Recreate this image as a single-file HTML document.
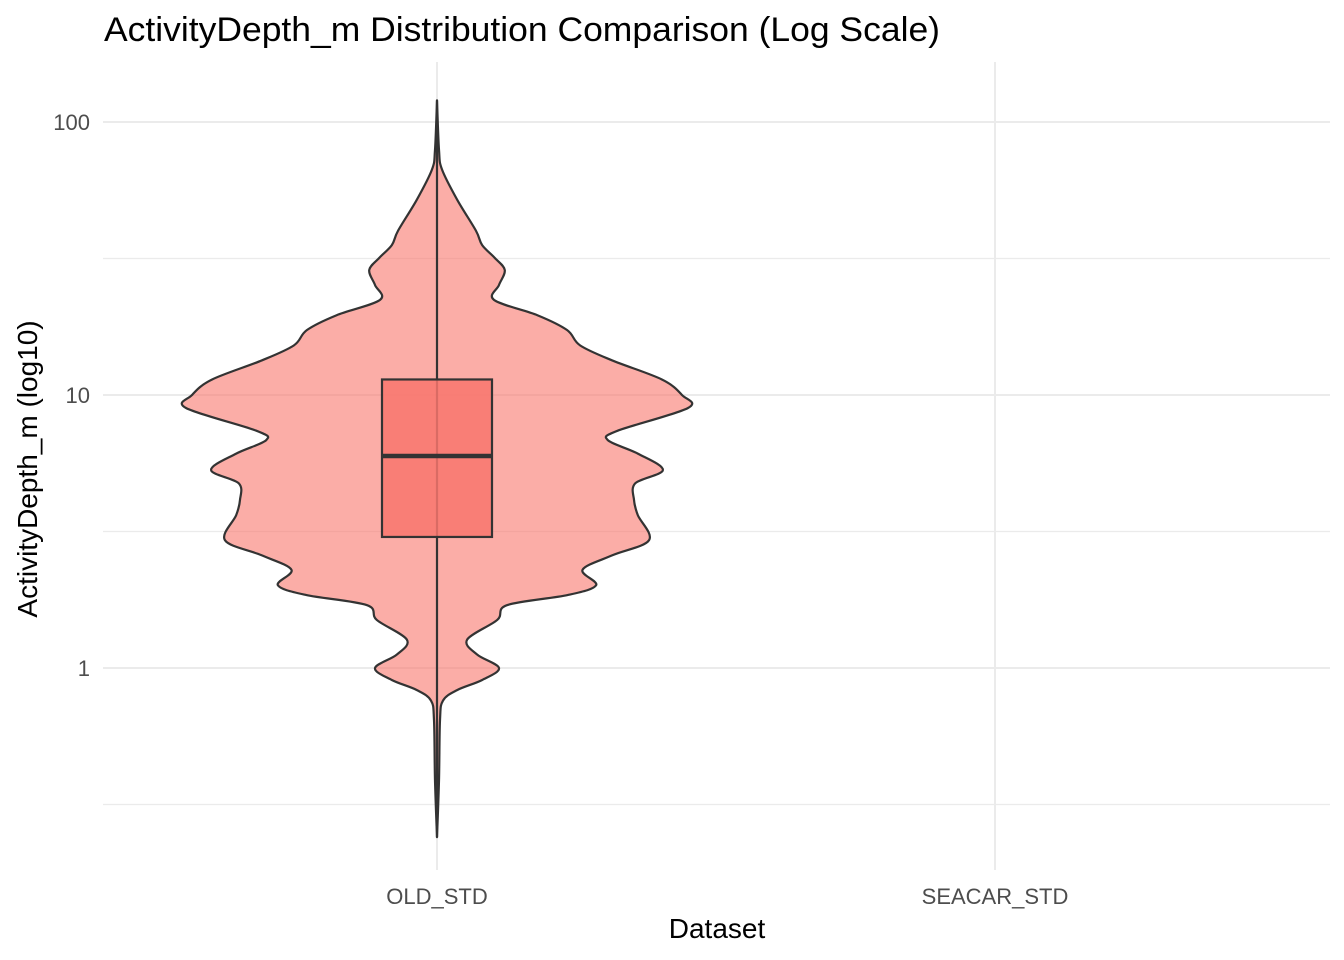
<!DOCTYPE html>
<html><head><meta charset="utf-8"><style>
body{margin:0;background:#fff;font-family:"Liberation Sans",sans-serif}
svg{display:block}
</style></head><body>
<svg id="chart" width="1344" height="960" viewBox="0 0 1344 960">
<text x="104" y="41" font-size="34" fill="#000" textLength="836" lengthAdjust="spacingAndGlyphs">ActivityDepth_m Distribution Comparison (Log Scale)</text>
<g id="grid"></g><g id="marks"></g><g id="axes"></g>
<text x="717" y="938" font-size="28" text-anchor="middle">Dataset</text>
<text transform="translate(37,469) rotate(-90)" font-size="28" text-anchor="middle">ActivityDepth_m (log10)</text>
</svg>
<script>
const categories = ["OLD_STD", "SEACAR_STD"];
const yTicks = [1, 10, 100];
const yTickLabels = ["1", "10", "100"];
const violinValues = [120,79,67,52,40,35.4,31.8,28.7,25.3,22.3,19.6,17.3,15.2,13.4,11.4,10,8.96,7.4,6.84,6.1,5.31,4.75,4.12,3.63,2.94,2.59,2.29,2.01,1.85,1.70,1.50,1.27,1.12,1,0.904,0.83,0.76,0.645,0.389,0.24];
const violinDensity = [0,0.008,0.02,0.08,0.155,0.18,0.23,0.27,0.247,0.227,0.4,0.518,0.57,0.697,0.896,0.976,1.0,0.72,0.68,0.8,0.9,0.79,0.785,0.8,0.845,0.7,0.58,0.634,0.52,0.28,0.24,0.12,0.16,0.247,0.18,0.08,0.024,0.012,0.008,0];
const boxStats = {lower:0.24, q1:3.02, median:5.98, q3:11.4, upper:120};
const NS="http://www.w3.org/2000/svg";
const px0=103, px1=1330, py0=62, py1=870;
function yScale(v){return 668-273*Math.log10(v);}
function xScale(i){return 437+558*i;}
const maxHalf=251;
function mk(tag,attrs,parent){const e=document.createElementNS(NS,tag);for(const k in attrs)e.setAttribute(k,attrs[k]);parent.appendChild(e);return e;}
const grid=document.getElementById('grid'), marks=document.getElementById('marks'), axes=document.getElementById('axes');
yTicks.forEach((t,i)=>{
  const y=yScale(t);
  const l=mk('line',{x1:px0,x2:px1,y1:y,y2:y,stroke:'#ebebeb','stroke-width':2},grid);
  
  
  const m=mk('line',{x1:px0,x2:px1,y1:yScale(t*Math.sqrt(10)),y2:yScale(t*Math.sqrt(10)),stroke:'#ebebeb','stroke-width':1.2},grid);
  
  
  const tx=mk('text',{x:90,y:y+8,'font-size':22,fill:'#4d4d4d','text-anchor':'end'},axes);
  tx.textContent=yTickLabels[i];
  
  
});
const mm=mk('line',{x1:px0,x2:px1,y1:yScale(0.1*Math.sqrt(10)),y2:yScale(0.1*Math.sqrt(10)),stroke:'#ebebeb','stroke-width':1.2},grid);


categories.forEach((c,i)=>{
  const x=xScale(i);
  const l=mk('line',{x1:x,x2:x,y1:py0,y2:py1,stroke:'#ebebeb','stroke-width':2},grid);
  
  
  const t=mk('text',{x:x,y:904,'font-size':22,fill:'#4d4d4d','text-anchor':'middle'},axes);
  t.textContent=c;
  
  
});
const cx=xScale(0);
const right=violinValues.map((v,i)=>[cx+violinDensity[i]*maxHalf,yScale(v)]);
const left=violinValues.map((v,i)=>[cx-violinDensity[i]*maxHalf,yScale(v)]).reverse();
function smooth(pts){let d='M'+pts[0][0]+','+pts[0][1];for(let i=0;i<pts.length-1;i++){const p0=pts[Math.max(0,i-1)],p1=pts[i],p2=pts[i+1],p3=pts[Math.min(pts.length-1,i+2)];const c1=[p1[0]+(p2[0]-p0[0])/6,p1[1]+(p2[1]-p0[1])/6],c2=[p2[0]-(p3[0]-p1[0])/6,p2[1]-(p3[1]-p1[1])/6];d+=' C'+c1+' '+c2+' '+p2;}return d;}
const vp=mk('path',{fill:'#f8766d','fill-opacity':0.6,stroke:'#333','stroke-width':2.2,'stroke-linejoin':'round'},marks);
vp.setAttribute('d',smooth(right)+' '+smooth(left).replace('M','L')+'Z');


const wh=mk('line',{x1:cx,x2:cx,y1:yScale(boxStats.upper),y2:yScale(boxStats.lower),stroke:'#333','stroke-width':2.2},marks);


const bx=mk('rect',{x:cx-55,y:yScale(boxStats.q3),width:110,height:yScale(boxStats.q1)-yScale(boxStats.q3),fill:'#f8766d','fill-opacity':0.85,stroke:'#333','stroke-width':2.2},marks);


const md=mk('line',{x1:cx-55,x2:cx+55,y1:yScale(boxStats.median),y2:yScale(boxStats.median),stroke:'#333','stroke-width':4.5},marks);


</script>
</body></html>
